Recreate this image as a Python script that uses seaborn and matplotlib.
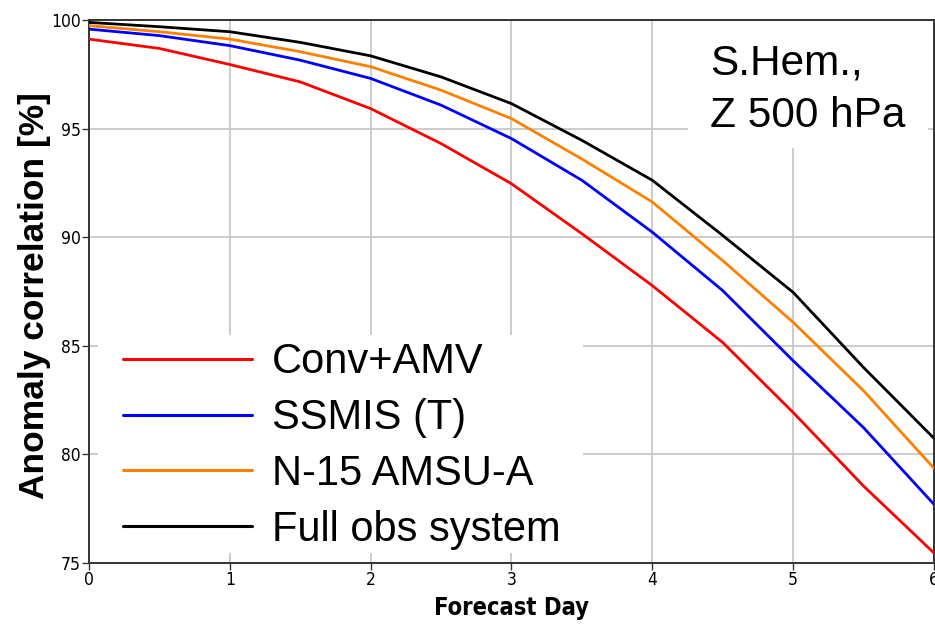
import matplotlib
matplotlib.use("Agg")
import matplotlib.pyplot as plt
import matplotlib.patches as mpatches
import pandas as pd
import seaborn as sns

# Forecast range in days (half-day steps)
days = [0, 0.5, 1, 1.5, 2, 2.5, 3, 3.5, 4, 4.5, 5, 5.5, 6]

# Anomaly correlation (%) for each observing-system configuration
conv_amv = [99.12, 98.69, 97.95, 97.15, 95.92, 94.31, 92.46, 90.16, 87.77, 85.15, 81.93, 78.54, 75.46]
ssmis_t = [99.58, 99.28, 98.82, 98.15, 97.31, 96.08, 94.54, 92.62, 90.23, 87.54, 84.31, 81.23, 77.70]
n15_amsua = [99.74, 99.46, 99.12, 98.54, 97.85, 96.77, 95.46, 93.60, 91.62, 88.92, 86.08, 82.93, 79.36]
full_obs = [99.89, 99.69, 99.46, 98.97, 98.35, 97.38, 96.15, 94.46, 92.62, 90.08, 87.46, 84.00, 80.74]

series_names = ["Conv+AMV", "SSMIS (T)", "N-15 AMSU-A", "Full obs system"]
series_colors = ["#ff0000", "#0000ff", "#ff8000", "#000000"]

x_ticks = [0, 1, 2, 3, 4, 5, 6]
y_ticks = [75, 80, 85, 90, 95, 100]

frames = []
for name, vals in zip(series_names, [conv_amv, ssmis_t, n15_amsua, full_obs]):
    frames.append(pd.DataFrame({"day": days, "ac": vals, "exp": name}))
df = pd.concat(frames, ignore_index=True)

sns.set_theme(style="white", rc={"text.color": "black",
                                 "axes.labelcolor": "black",
                                 "xtick.color": "black",
                                 "ytick.color": "black"})
plt.rcParams["font.family"] = ["Liberation Sans", "DejaVu Sans"]

W, H = 935, 624
fig = plt.figure(figsize=(W / 100, H / 100), dpi=100)
L, R, T, B = 89, 934, 20, 563
ax = fig.add_axes([L / W, 1 - B / H, (R - L) / W, (B - T) / H])


def px_to_axes(x, y):
    """Convert figure pixel coordinates (top-left origin) to axes fractions."""
    return (x - L) / (R - L), (B - y) / (B - T)


sns.lineplot(data=df, x="day", y="ac", hue="exp", hue_order=series_names,
             palette=dict(zip(series_names, series_colors)),
             linewidth=2.0, ax=ax, legend=True, zorder=3)

ax.set_xlim(0, 6)
ax.set_ylim(75, 100)
ax.set_xticks(x_ticks)
ax.set_yticks(y_ticks)
ax.set_xticklabels([str(t) for t in x_ticks])
ax.set_yticklabels([str(t) for t in y_ticks])
ax.grid(True, color="#c4c4c4", linewidth=1.2, zorder=0)
ax.set_axisbelow(True)

ax.tick_params(axis="both", direction="out", length=5, width=1.0,
               color="#333333", labelcolor="black", labelsize=12.5, pad=1,
               bottom=True, left=True)
for lab in ax.get_xticklabels() + ax.get_yticklabels():
    lab.set_family("DejaVu Sans")
    lab.set_stretch("condensed")

for s in ax.spines.values():
    s.set_color("#333333")
    s.set_linewidth(1.4)

ax.set_xlabel("Forecast Day", fontsize=17, fontweight="bold",
              family="DejaVu Sans", fontstretch="condensed", color="black")
ax.xaxis.set_label_coords(0.5, px_to_axes(0, 615)[1])
ax.xaxis.label.set_va("baseline")

ax.set_ylabel("Anomaly correlation [%]", fontsize=25.5, fontweight="bold",
              color="black")
ax.yaxis.set_label_coords(px_to_axes(51, 0)[0], px_to_axes(0, 296)[1])

# White panel with the region / level annotation
x0, y1 = px_to_axes(688, 148)
x1, _ = px_to_axes(928, 0)
ax.add_patch(mpatches.Rectangle((x0, y1), x1 - x0, 1 - y1,
                                transform=ax.transAxes, facecolor="white",
                                edgecolor="none", zorder=2))
fig.text(710 / W, 1 - 75 / H, "S.Hem.,", fontsize=30.5, color="black",
         ha="left", va="baseline")
fig.text(710 / W, 1 - 127 / H, "Z 500 hPa", fontsize=30.5, color="black",
         ha="left", va="baseline")

# White panel behind the legend
lx0, ly1 = px_to_axes(98, 553)
lx1, ly0 = px_to_axes(583, 335)
ax.add_patch(mpatches.Rectangle((lx0, ly1), lx1 - lx0, ly0 - ly1,
                                transform=ax.transAxes, facecolor="white",
                                edgecolor="none", zorder=2))

handles, labels = ax.get_legend_handles_labels()
leg = ax.legend(handles, labels, loc="center left",
                bbox_to_anchor=px_to_axes(123, 446),
                borderaxespad=0, fontsize=30, frameon=False,
                handlelength=3.1, handletextpad=0.48, borderpad=0,
                labelspacing=0.38, labelcolor="black")
for line in leg.get_lines():
    line.set_linewidth(2.2)
leg.set_zorder(4)

fig.savefig("out.png", dpi=100, facecolor="white")
